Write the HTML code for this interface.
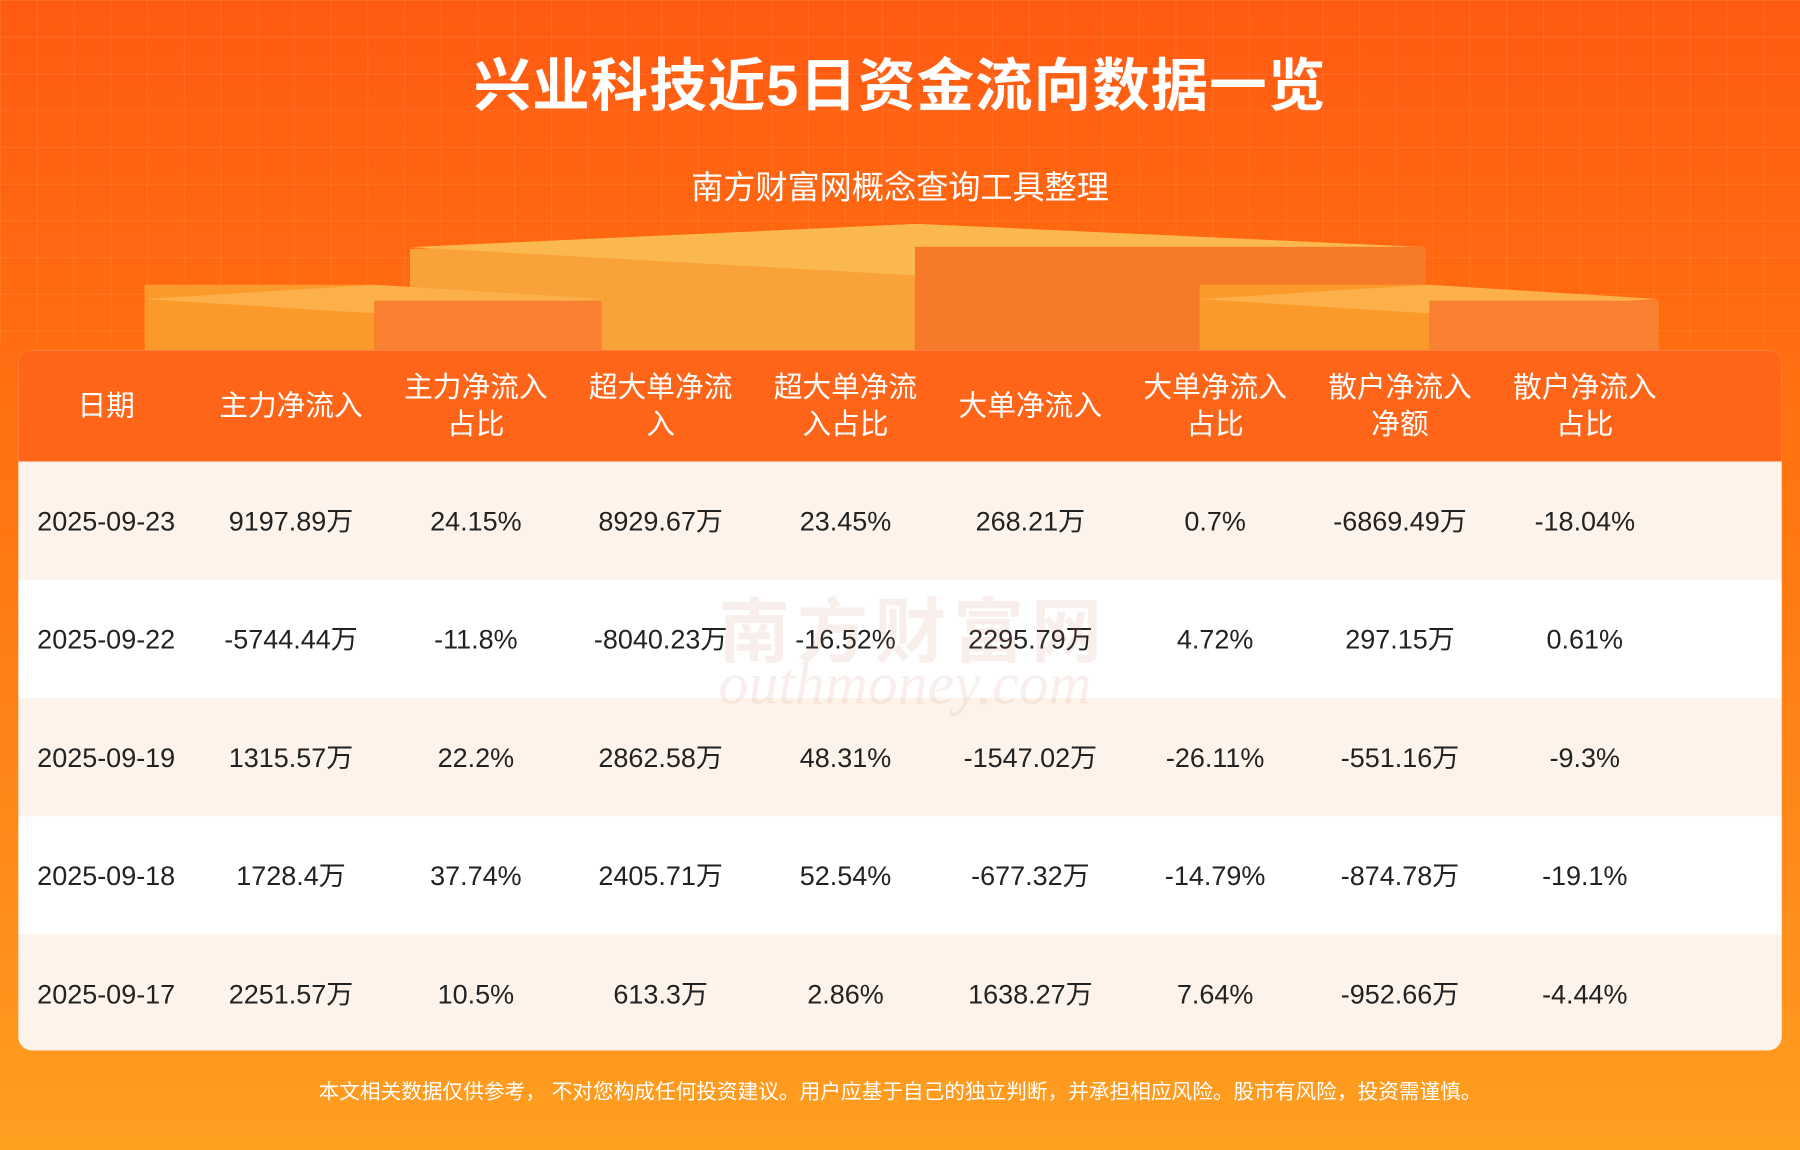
<!DOCTYPE html>
<html><head><meta charset="utf-8"><style>
html,body{margin:0;padding:0;width:1800px;height:1150px;overflow:hidden}
#w{position:absolute;left:0;top:0;width:1568px;height:1002px;transform:scale(1.148,1.148);transform-origin:0 0;
background:linear-gradient(180deg,#ff5a12 0%,#ff6a10 25%,#ff7a12 50%,#ff8e1c 80%,#ffa020 100%);font-family:"Liberation Sans","Noto Sans CJK SC",sans-serif;overflow:hidden}
.grid{position:absolute;left:0;top:0;width:1568px;height:300px;background-image:linear-gradient(rgba(255,255,255,.08) 1px,transparent 1px),linear-gradient(90deg,rgba(255,255,255,.08) 1px,transparent 1px);background-size:32px 32px}
.t{position:absolute;left:0;width:1568px;text-align:center;color:#fff}
.card{position:absolute;left:16px;top:305px;width:1536px;height:610px;border-radius:12px;overflow:hidden;background:#fff}
.row{position:absolute;left:0;width:1536px;height:103px}
.c{position:absolute;top:0;width:161px;height:100%;display:flex;align-items:center;justify-content:center;text-align:center}
.hd .c{color:#fff;font-size:25px;line-height:32px}
.bd .c{color:#222;font-size:23.5px;line-height:30px}
.bd .c span{display:inline-block;height:30px;line-height:30px;vertical-align:top}
</style></head><body><div id="w">
<div class="grid"></div>
<div style="position:absolute;left:357px;top:195px;width:440px;height:110px;background:#f9a23a;clip-path:polygon(0 20%,100% 0,100% 100%,0 100%)"></div>
<div style="position:absolute;left:357px;top:195px;width:885px;height:45px;background:#fbb84e;clip-path:polygon(0 45%,50% 0,100% 45%,50% 100%)"></div>
<div style="position:absolute;left:797px;top:215px;width:445px;height:90px;background:#f77a2a"></div>
<div style="position:absolute;left:126px;top:248px;width:200px;height:57px;background:#fb9a2a"></div>
<div style="position:absolute;left:126px;top:248px;width:400px;height:25px;background:#fbb04a;clip-path:polygon(0 50%,50% 0,100% 50%,50% 100%)"></div>
<div style="position:absolute;left:326px;top:262px;width:198px;height:43px;background:#f88030"></div>
<div style="position:absolute;left:1045px;top:248px;width:200px;height:57px;background:#fb9a2a"></div>
<div style="position:absolute;left:1045px;top:248px;width:400px;height:25px;background:#fbb04a;clip-path:polygon(0 50%,50% 0,100% 50%,50% 100%)"></div>
<div style="position:absolute;left:1245px;top:262px;width:200px;height:43px;background:#f88030"></div>
<div class="t" style="top:40px;font-size:50px;line-height:70px;font-weight:bold;letter-spacing:1px">兴业科技近5日资金流向数据一览</div>
<div class="t" style="top:144px;font-size:28px;line-height:40px">南方财富网概念查询工具整理</div>
<div class="card">
<div class="row hd" style="top:0;height:97px;background:#ff6519">
<div class="c" style="left:-4px">日期</div><div class="c" style="left:157px">主力净流入</div><div class="c" style="left:318px">主力净流入<br>占比</div><div class="c" style="left:479px">超大单净流<br>入</div><div class="c" style="left:640px">超大单净流<br>入占比</div><div class="c" style="left:801px">大单净流入</div><div class="c" style="left:962px">大单净流入<br>占比</div><div class="c" style="left:1123px">散户净流入<br>净额</div><div class="c" style="left:1284px">散户净流入<br>占比</div></div>
<div class="row bd" style="top:97px;background:#fdf3ea"><div class="c" style="left:-4px"><span>2025-09-23</span></div><div class="c" style="left:157px"><span>9197.89万</span></div><div class="c" style="left:318px"><span>24.15%</span></div><div class="c" style="left:479px"><span>8929.67万</span></div><div class="c" style="left:640px"><span>23.45%</span></div><div class="c" style="left:801px"><span>268.21万</span></div><div class="c" style="left:962px"><span>0.7%</span></div><div class="c" style="left:1123px"><span>-6869.49万</span></div><div class="c" style="left:1284px"><span>-18.04%</span></div></div>
<div class="row bd" style="top:200px;background:#fff"><div class="c" style="left:-4px"><span>2025-09-22</span></div><div class="c" style="left:157px"><span>-5744.44万</span></div><div class="c" style="left:318px"><span>-11.8%</span></div><div class="c" style="left:479px"><span>-8040.23万</span></div><div class="c" style="left:640px"><span>-16.52%</span></div><div class="c" style="left:801px"><span>2295.79万</span></div><div class="c" style="left:962px"><span>4.72%</span></div><div class="c" style="left:1123px"><span>297.15万</span></div><div class="c" style="left:1284px"><span>0.61%</span></div></div>
<div class="row bd" style="top:303px;background:#fdf3ea"><div class="c" style="left:-4px"><span>2025-09-19</span></div><div class="c" style="left:157px"><span>1315.57万</span></div><div class="c" style="left:318px"><span>22.2%</span></div><div class="c" style="left:479px"><span>2862.58万</span></div><div class="c" style="left:640px"><span>48.31%</span></div><div class="c" style="left:801px"><span>-1547.02万</span></div><div class="c" style="left:962px"><span>-26.11%</span></div><div class="c" style="left:1123px"><span>-551.16万</span></div><div class="c" style="left:1284px"><span>-9.3%</span></div></div>
<div class="row bd" style="top:406px;background:#fff"><div class="c" style="left:-4px"><span>2025-09-18</span></div><div class="c" style="left:157px"><span>1728.4万</span></div><div class="c" style="left:318px"><span>37.74%</span></div><div class="c" style="left:479px"><span>2405.71万</span></div><div class="c" style="left:640px"><span>52.54%</span></div><div class="c" style="left:801px"><span>-677.32万</span></div><div class="c" style="left:962px"><span>-14.79%</span></div><div class="c" style="left:1123px"><span>-874.78万</span></div><div class="c" style="left:1284px"><span>-19.1%</span></div></div>
<div class="row bd" style="top:509px;background:#fdf3ea"><div class="c" style="left:-4px"><span>2025-09-17</span></div><div class="c" style="left:157px"><span>2251.57万</span></div><div class="c" style="left:318px"><span>10.5%</span></div><div class="c" style="left:479px"><span>613.3万</span></div><div class="c" style="left:640px"><span>2.86%</span></div><div class="c" style="left:801px"><span>1638.27万</span></div><div class="c" style="left:962px"><span>7.64%</span></div><div class="c" style="left:1123px"><span>-952.66万</span></div><div class="c" style="left:1284px"><span>-4.44%</span></div></div>
<div style="position:absolute;left:610px;top:195px;font-size:62px;color:rgba(200,120,100,.12);font-weight:bold;letter-spacing:6px">南方财富网</div>
<div style="position:absolute;left:610px;top:262px;font-size:52px;color:rgba(200,120,100,.12);font-style:italic;font-family:'Liberation Serif',serif">outhmoney.com</div>
</div>
<div class="t" style="top:938px;font-size:18px;line-height:26px">本文相关数据仅供参考， 不对您构成任何投资建议。用户应基于自己的独立判断，并承担相应风险。股市有风险，投资需谨慎。</div>
</div></body></html>
